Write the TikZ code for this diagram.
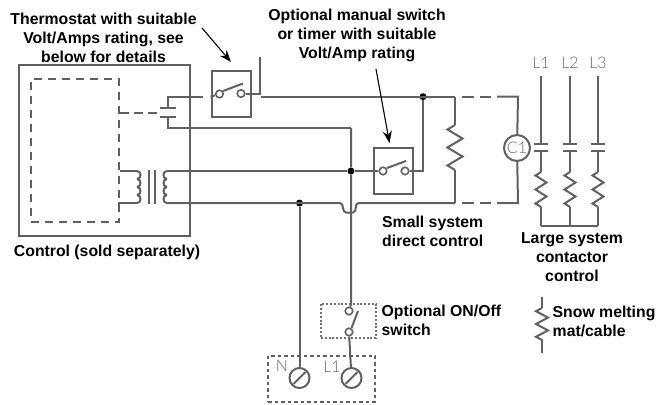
\documentclass[tikz,border=0pt]{standalone}
\usepackage{fontspec}
\setmainfont{Liberation Sans}
\newfontfamily\thinfont{Lato Light}
\usetikzlibrary{calc,arrows.meta,decorations.pathmorphing}

\begin{document}
\begin{tikzpicture}[x=1pt,y=-1pt,font=\fontsize{15.8}{19}\selectfont\bfseries]
    \tikzstyle{wire}=[draw=black!62,line width=2]
    \tikzstyle{dash wire}=[wire,dash pattern=on 12 off 6]
    \tikzstyle{tap wire}=[wire,dash pattern=on 9 off 5]
    \tikzstyle{dot box}=[draw=black!55,line width=2,dash pattern=on 2 off 1.8]
    \tikzstyle{dash box}=[draw=black!62,line width=2,dash pattern=on 3.5 off 3]
    \tikzstyle{contact}=[circle,draw=black!62,line width=1.6,inner sep=0,minimum size=7.5]
    \tikzstyle{joint}=[circle,fill=black,inner sep=0,minimum size=7]
    \tikzstyle{screw}=[circle,draw=black!62,line width=2,inner sep=0,minimum size=20]
    \tikzstyle{relay box}=[rectangle,draw=black!62,line width=2,inner sep=0,minimum width=39,minimum height=46]
    \tikzstyle{note}=[align=center,inner sep=0]
    \tikzstyle{side note}=[align=left,inner sep=0]
    \tikzstyle{thin label}=[font=\fontsize{16}{16}\thinfont\selectfont,text=black!60,inner sep=0]
    \tikzstyle{pointer}=[draw=black,line width=1.1,-{Stealth[length=12,width=9]}]
    \tikzstyle{heater}=[wire,decorate,decoration={zigzag,segment length=18,amplitude=-7.5}]
    \tikzstyle{small heater}=[wire,decorate,decoration={zigzag,segment length=14,amplitude=-5.5}]
    \tikzstyle{leg heater}=[wire,decorate,decoration={zigzag,segment length=12.8,amplitude=-6}]
    \useasboundingbox (0,0) rectangle (658,404);

    % control
    \node(control)[rectangle,wire,inner sep=0,minimum width=171,minimum height=171] at (104.5,150.5){};
    \node(board)[rectangle,wire,inner sep=0,minimum width=88,minimum height=143,dash pattern=on 8 off 6] at (75,150.5){};

    % thermostat and manual switch
    \node(stat)[relay box] at (231,93.5){};
    \node(statL)[contact] at (219.5,94){};
    \node(statR)[contact] at (241,93.5){};
    \node(manual)[relay box] at (393.5,170.5){};
    \node(manualL)[contact] at (383,171){};
    \node(manualR)[contact] at (405,171){};
    \coordinate(statArmA) at (223,91);
    \coordinate(statArmB) at (243,83.5);
    \coordinate(manArmA) at (387,168);
    \coordinate(manArmB) at (406,161);
    \draw[wire] (statArmA) -- (statArmB);
    \draw[wire] (manArmA) -- (manArmB);

    % junctions
    \node(jTop)[joint] at (423,96.7){};
    \node(jMid)[joint] at (351,171){};
    \node(jLow)[joint] at (299.5,203){};

    % contact in control
    \coordinate(tapA) at (120,112.5);
    \coordinate(tapB) at (158,112.5);
    \coordinate(plateAL) at (160,108.3);
    \coordinate(plateAR) at (175.5,108.3);
    \coordinate(plateBL) at (160,116.7);
    \coordinate(plateBR) at (175.5,116.7);
    \coordinate(leadAup) at (168,96.7);
    \coordinate(leadA) at (168,108.3);
    \coordinate(leadB) at (168,116.7);
    \coordinate(leadBdn) at (168,128);
    \coordinate(statIn) at (203,96.7);
    \coordinate(statInB) at (210.5,96.7);
    \coordinate(statOut) at (259.5,93.5);
    \coordinate(statTop) at (259.5,57);
    \coordinate(mainA) at (261,96.7);
    \coordinate(mainB) at (455,96.7);
    \coordinate(riseEnd) at (351,128);
    \draw[wire] (plateAL) -- (plateAR);
    \draw[wire] (plateBL) -- (plateBR);
    \draw[wire] (leadA) -- (leadAup) -- (statIn);
    \draw[wire] (statInB) -- (statL);
    \draw[wire] (leadB) -- (leadBdn) -- (riseEnd);
    \draw[tap wire] (tapA) -- (tapB);
    \draw[wire] (statR) -- (statOut) -- (statTop);
    \draw[wire] (mainA) -- (mainB);

    % transformer
    \coordinate(coilAin) at (120,171);
    \coordinate(coilA) at (137,171);
    \coordinate(coilB) at (167,171);
    \coordinate(coilAout) at (118,203);
    \coordinate(coilBout) at (167,203);
    \coordinate(coreAa) at (149,170);
    \coordinate(coreAb) at (149,204);
    \coordinate(coreBa) at (155,170);
    \coordinate(coreBb) at (155,204);
    \draw[wire] (coreAa) -- (coreAb);
    \draw[wire] (coreBa) -- (coreBb);
    \draw[wire] (coilAin) -- (coilA);
    \draw[wire] (coilAout) -- (coilA |- coilAout);
    \foreach \i in {0,1,2,3}{
        \draw[wire] ($(coilA)+(0,8*\i)$) to[out=0,in=0,looseness=1.5] ($(coilA)+(0,8*\i+8)$);
        \draw[wire] ($(coilB)+(0,8*\i)$) to[out=180,in=180,looseness=1.5] ($(coilB)+(0,8*\i+8)$);
    }
    \draw[wire] (coilB) -- (jMid) -- (manualL);
    \draw[wire] (manualR) -- (423,171) -- (jTop);

    % bottom wire with hump
    \coordinate(humpA) at (340,203);
    \coordinate(humpB) at (358.5,203);
    \coordinate(lowEnd) at (455,203);
    \draw[wire] (coilBout) -- (humpA) to[out=0,in=180] (346,212.5) -- (353,212.5) to[out=0,in=180] (humpB) -- (lowEnd);

    % big heater
    \coordinate(heatA) at (455,125);
    \coordinate(heatB) at (455,170);
    \draw[wire] (mainB) -- (heatA);
    \draw[heater] (heatA) -- (heatB);
    \draw[wire] (heatB) -- (lowEnd);

    % C1
    \node(coilC)[circle,draw=black!62,line width=2,inner sep=0,minimum size=26,thin label] at (517,148){C1};
    \coordinate(dashA) at (461.5,96.7);
    \coordinate(dashB) at (491,96.7);
    \coordinate(dashC) at (497,96.7);
    \coordinate(dashEnd) at (518,96.7);
    \coordinate(lowA) at (461.5,203);
    \coordinate(lowB) at (491,203);
    \coordinate(lowC) at (497,203);
    \coordinate(lowDash) at (518,203);
    \draw[dash wire] (dashA) -- (dashB);
    \draw[dash wire] (lowA) -- (lowB);
    \draw[wire] (dashC) -- (dashEnd) -- (coilC);
    \draw[wire] (coilC) -- (lowDash) -- (lowC);

    % three phases
    \foreach \name/\xx in {1/541,2/570,3/598}{
        \node(L\name)[thin label] at (\xx,63){L\name};
        \coordinate(top\name) at (\xx,76);
        \coordinate(plA\name) at (\xx,144);
        \coordinate(plB\name) at (\xx,151);
        \coordinate(zigA\name) at (\xx,172);
        \coordinate(zigB\name) at (\xx,207);
        \coordinate(bus\name) at (\xx,225.7);
        \draw[wire] (top\name) -- (plA\name);
        \draw[wire] ($(plA\name)+(-7,0)$) -- ($(plA\name)+(7,0)$);
        \draw[wire] ($(plB\name)+(-7,0)$) -- ($(plB\name)+(7,0)$);
        \draw[wire] (plB\name) -- (zigA\name);
        \draw[small heater] (zigA\name) -- (zigB\name);
        \draw[wire] (zigB\name) -- (bus\name);
    }
    \draw[wire] (bus1) -- (bus3);

    % supply
    \node(termN)[screw] at (299.5,378){};
    \node(termL)[screw] at (351.5,378){};
    \draw[wire] ($(termN)+(-6,6)$) -- ($(termN)+(6,-6)$);
    \draw[wire] ($(termL)+(-6,6)$) -- ($(termL)+(6,-6)$);
    \node(supply)[rectangle,dash box,inner sep=0,minimum width=107,minimum height=46] at (321.5,378.5){};
    \node(labN)[thin label] at (282,366){N};
    \node(labL)[thin label] at (332,367){L1};
    \draw[wire] (jLow) -- (termN);
    \node(onoff)[rectangle,dot box,inner sep=0,minimum width=55,minimum height=34] at (348.5,321){};
    \node(onoffA)[contact] at (349,311){};
    \node(onoffB)[contact] at (349,332){};
    \coordinate(armA) at (358,311);
    \coordinate(armB) at (351.5,328);
    \draw[wire] (armA) -- (armB);
    \draw[wire] (riseEnd) -- (jMid) -- (351,304) -- (onoffA);
    \draw[wire] (onoffB) -- (termL);

    % legend
    \coordinate(legA) at (542,297);
    \coordinate(legB) at (542,308);
    \coordinate(legC) at (542,340);
    \coordinate(legD) at (542,353);
    \draw[wire] (legA) -- (legB);
    \draw[leg heater] (legB) -- (legC);
    \draw[wire] (legC) -- (legD);

    % texts
    \node(tStat)[note] at (103.5,38){Thermostat with suitable\\Volt/Amps rating, see\\below for details};
    \node(tManual)[note] at (357,35){Optional manual switch\\or timer with suitable\\Volt/Amp rating};
    \node(tControl)[note] at (107,252){Control (sold separately)};
    \node(tSmall)[side note,anchor=west] at (382,231){Small system\\direct control};
    \node(tLarge)[note] at (572,257.5){Large system\\contactor\\control};
    \node(tOnoff)[side note,anchor=west] at (381.5,320){Optional ON/Off\\switch};
    \node(tSnow)[side note,anchor=west] at (552.5,321){Snow melting\\mat/cable};

    % arrows
    \coordinate(arrStatA) at (202,28);
    \coordinate(arrStatB) at (231,62);
    \coordinate(arrManA) at (376,69);
    \coordinate(arrManB) at (389.5,143);
    \draw[pointer] (arrStatA) -- (arrStatB);
    \draw[pointer] (arrManA) -- (arrManB);
\end{tikzpicture}
\end{document}
